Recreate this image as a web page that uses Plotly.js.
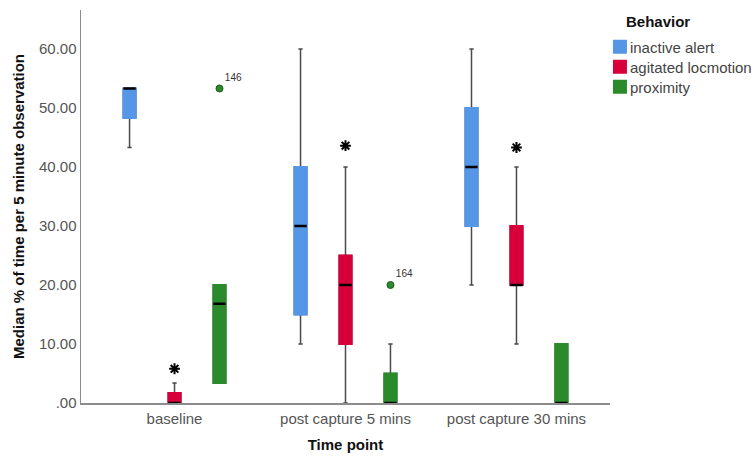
<!DOCTYPE html>
<html>
<head>
<meta charset="utf-8">
<script src="https://cdn.plot.ly/plotly-3.0.1.min.js"></script>
<style>
  html, body { margin: 0; padding: 0; background: #fff; }
  #chart { width: 756px; height: 462px; }
</style>
</head>
<body>
<div id="chart"></div>
<script>
// ---------- data ----------
const categories = ['baseline', 'post capture 5 mins', 'post capture 30 mins'];
const behaviors = ['inactive alert', 'agitated locmotion', 'proximity'];
const yTickValues = [0, 10, 20, 30, 40, 50, 60];
const yTickLabels = ['.00', '10.00', '20.00', '30.00', '40.00', '50.00', '60.00'];

// inactive alert
const inactiveMin = [43.3, 10, 20];
const inactiveQ1 = [48.3, 15, 30];
const inactiveMedian = [53.3, 30, 40];
const inactiveQ3 = [53.3, 40, 50];
const inactiveMax = [53.3, 60, 60];
// agitated locmotion
const agitatedMin = [0, 0, 10];
const agitatedQ1 = [0, 10, 20];
const agitatedMedian = [0, 20, 20];
const agitatedQ3 = [1.7, 25, 30];
const agitatedMax = [3.4, 40, 40];
// proximity
const proximityMin = [3.4, 0, 0];
const proximityQ1 = [3.4, 0, 0];
const proximityMedian = [16.8, 0, 0];
const proximityQ3 = [20, 5, 10];
const proximityMax = [20, 10, 10];

// outliers (circles) and extremes (stars)
const outlierCategories = ['baseline', 'post capture 5 mins'];
const outlierBehaviors = ['proximity', 'proximity'];
const outlierValues = [53.3, 20];
const outlierLabels = ['146', '164'];
const extremeCategories = ['baseline', 'post capture 5 mins', 'post capture 30 mins'];
const extremeBehaviors = ['agitated locmotion', 'agitated locmotion', 'agitated locmotion'];
const extremeValues = [5.8, 43.6, 43.3];

// ---------- styling ----------
const colors = ['#5596E6', '#D8003B', '#2B8A2B'];
const groupOffset = 0.263;   // spacing between boxes within a category
const boxWidth = 0.072;
const FONT = 'Liberation Sans, Arial, sans-serif';

const stats = [
  {min: inactiveMin, q1: inactiveQ1, med: inactiveMedian, q3: inactiveQ3, max: inactiveMax},
  {min: agitatedMin, q1: agitatedQ1, med: agitatedMedian, q3: agitatedQ3, max: agitatedMax},
  {min: proximityMin, q1: proximityQ1, med: proximityMedian, q3: proximityQ3, max: proximityMax}
];

function pos(cat, bIdx) {
  return categories.indexOf(cat) + (bIdx - 1) * groupOffset;
}

const traces = [];
// whiskers
stats.forEach((s, b) => {
  traces.push({
    type: 'box', name: behaviors[b], showlegend: false, hoverinfo: 'skip',
    x: categories.map(c => pos(c, b)),
    q1: s.q1, median: s.med, q3: s.q3, lowerfence: s.min, upperfence: s.max,
    width: boxWidth, whiskerwidth: 0.35, boxpoints: false,
    fillcolor: 'rgba(0,0,0,0)', line: {color: '#4a4a4a', width: 1.5}
  });
});
// box bodies (legend entries)
stats.forEach((s, b) => {
  traces.push({
    type: 'box', name: behaviors[b], showlegend: true, hoverinfo: 'skip',
    x: categories.map(c => pos(c, b)),
    q1: s.q1, median: s.q1, q3: s.q3, lowerfence: s.q1, upperfence: s.q3,
    width: boxWidth, whiskerwidth: 0, boxpoints: false,
    fillcolor: colors[b], line: {color: colors[b], width: 2}
  });
});
// medians
stats.forEach((s, b) => {
  traces.push({
    type: 'box', name: behaviors[b], showlegend: false, hoverinfo: 'skip',
    x: categories.map(c => pos(c, b)),
    q1: s.med, median: s.med, q3: s.med, lowerfence: s.med, upperfence: s.med,
    width: boxWidth, whiskerwidth: 0, boxpoints: false,
    fillcolor: 'rgba(0,0,0,0)', line: {color: '#000000', width: 2.5}
  });
});
// outliers
traces.push({
  type: 'scatter', mode: 'markers+text', showlegend: false, hoverinfo: 'skip',
  x: outlierCategories.map((c, i) => pos(c, behaviors.indexOf(outlierBehaviors[i]))),
  y: outlierValues,
  text: outlierLabels, textposition: 'top right',
  textfont: {family: FONT, size: 10, color: '#333'},
  marker: {size: 7, color: colors[2], line: {color: '#1d5a1d', width: 1}}
});
// extremes
traces.push({
  type: 'scatter', mode: 'markers', showlegend: false, hoverinfo: 'skip',
  x: extremeCategories.map((c, i) => pos(c, behaviors.indexOf(extremeBehaviors[i]))),
  y: extremeValues,
  marker: {symbol: 'asterisk-open', size: 9, color: '#000', line: {color: '#000', width: 2}}
});

const layout = {
  width: 756, height: 462,
  margin: {l: 81, r: 146, t: 10, b: 59, autoexpand: false},
  paper_bgcolor: '#fff', plot_bgcolor: '#fff',
  font: {family: FONT, size: 15, color: '#555'},
  boxmode: 'overlay',
  showlegend: true,
  xaxis: {
    type: 'linear', range: [-0.547, 2.547],
    tickvals: categories.map((c, i) => i), ticktext: categories,
    showgrid: false, zeroline: false, ticks: '',
    showline: true, linecolor: '#8c8c8c', linewidth: 1.5,
    tickfont: {family: FONT, size: 15, color: '#555'},
    ticklabelstandoff: 1,
    title: {text: 'Time point', font: {family: FONT, size: 15, color: '#111', weight: 'bold'}, standoff: 14}
  },
  yaxis: {
    range: [0, 66.6],
    tickvals: yTickValues, ticktext: yTickLabels,
    showgrid: false, zeroline: false, ticks: '',
    showline: true, linecolor: '#8c8c8c', linewidth: 1.5,
    tickfont: {family: FONT, size: 15, color: '#555'},
    title: {text: 'Median % of time per 5 minute observation', font: {family: FONT, size: 15, color: '#111', weight: 'bold'}, standoff: 10}
  },
  legend: {
    x: 0.981, xanchor: 'left', y: 0.948, yanchor: 'top',
    bgcolor: 'rgba(0,0,0,0)', borderwidth: 0,
    font: {family: FONT, size: 15, color: '#444'},
    tracegroupgap: 0, itemwidth: 30
  },
  annotations: [{
    text: 'Behavior', xref: 'paper', yref: 'paper', x: 1.0907, y: 0.9695,
    xanchor: 'center', yanchor: 'middle', showarrow: false,
    font: {family: FONT, size: 15, color: '#111', weight: 'bold'}
  }]
};

Plotly.newPlot('chart', traces, layout, {staticPlot: true, displayModeBar: false}).then(gd => {
  // tighten legend: smaller gap between swatch and label, 20px row spacing
  const items = gd.querySelectorAll('.legend .traces');
  let y0 = null;
  items.forEach((g, i) => {
    const m = /translate\(([-\d.]+),\s*([-\d.]+)\)/.exec(g.getAttribute('transform') || '');
    if (m) {
      if (y0 === null) y0 = parseFloat(m[2]);
      g.setAttribute('transform', 'translate(' + m[1] + ',' + (y0 + i * 20) + ')');
    }
    const t = g.querySelector('.legendtext');
    if (t) t.setAttribute('x', parseFloat(t.getAttribute('x')) - 10);
  });
});
</script>
</body>
</html>
